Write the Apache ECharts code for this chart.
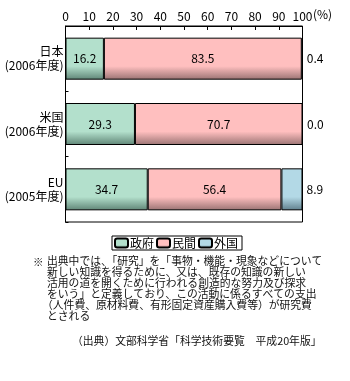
<!DOCTYPE html>
<html><head><meta charset="utf-8">
<script src="https://cdn.jsdelivr.net/npm/echarts@6/dist/echarts.min.js"></script>
<style>html,body{margin:0;padding:0;background:#fff}#c{width:350px;height:381px}</style>
</head><body><div id="c"></div>
<script>
const categories = ['日本\n(2006年度)', '米国\n(2006年度)', 'EU\n(2005年度)'];
const seriesNames = ['政府', '民間', '外国'];
const govValues = [16.2, 29.3, 34.7];
const privValues = [83.5, 70.7, 56.4];
const foreignValues = [0.4, 0.0, 8.9];
const xTicks = [0, 10, 20, 30, 40, 50, 60, 70, 80, 90, 100];
const unitText = '(%)';
const noteLines = [
  '出典中では、「研究」を「事物・機能・現象などについて',
  '新しい知識を得るために、又は、既存の知識の新しい',
  '活用の道を開くために行われる創造的な努力及び探求',
  'をいう」と定義しており、この活動に係るすべての支出',
  '（人件費、原材料費、有形固定資産購入費等）が研究費',
  'とされる'
];
const sourceText = '（出典）文部科学省「科学技術要覧　平成20年版」';

const FONT = '"Noto Sans CJK JP", "Noto Sans", sans-serif';
function grad(c, d) {
  return new echarts.graphic.LinearGradient(0, 0, 0, 1, [
    {offset: 0, color: c}, {offset: 0.68, color: c}, {offset: 1, color: d}
  ]);
}
const fills = [grad('#b3e0cc', '#5f8576'), grad('#ffbfbf', '#9a7373'), grad('#b3d9e6', '#5f7f8c')];
const data = [govValues, privValues, foreignValues];

const chart = echarts.init(document.getElementById('c'), null, {renderer: 'canvas'});
const graphics = [];
graphics.push({type: 'text', left: 313, top: 8, style: {text: unitText, font: '12px ' + FONT, fill: '#000'}});
graphics.push({type: 'text', left: 33, top: 257, style: {text: '※', font: '10.5px ' + FONT, fill: '#000'}});
noteLines.forEach((t, i) => {
  graphics.push({type: 'text', left: (t.startsWith('（') ? 42 : 47), top: 256 + i * 11,
    style: {text: t, font: '10.8px ' + FONT, fill: '#111'}});
});
graphics.push({type: 'text', left: 72, top: 336, style: {text: sourceText, font: '10.8px ' + FONT, fill: '#111'}});

chart.setOption({
  animation: false,
  textStyle: {fontFamily: FONT},
  grid: {left: 65.5, right: 47.5, top: 26, height: 196, show: true, borderColor: '#000', borderWidth: 1, backgroundColor: 'transparent'},
  legend: {
    data: seriesNames, left: 112, top: 236, orient: 'horizontal',
    borderColor: '#000', borderWidth: 1, padding: [1, 4, 1, 2],
    itemWidth: 13, itemHeight: 9, itemGap: 2,
    textStyle: {fontSize: 12, color: '#000', fontFamily: FONT, padding: [0, 0, 0, -3]}
  },
  xAxis: {
    type: 'value', position: 'top', min: 0, max: 100, interval: 10,
    axisLine: {show: true, lineStyle: {color: '#000'}},
    axisTick: {show: true, inside: true, length: 4, lineStyle: {color: '#000'}},
    axisLabel: {color: '#000', fontSize: 12, margin: 4, fontFamily: FONT,
      formatter: v => xTicks.includes(v) ? String(v) : ''},
    splitLine: {show: false}
  },
  yAxis: {
    type: 'category', inverse: true, data: categories,
    axisLine: {show: true, lineStyle: {color: '#000'}},
    axisTick: {show: true, inside: true, length: 3, lineStyle: {color: '#000'}},
    axisLabel: {color: '#000', fontSize: 12, margin: 2, lineHeight: 14, align: 'right', fontFamily: FONT}
  },
  series: seriesNames.map((n, i) => ({
    name: n, type: 'bar', stack: 'total', barWidth: 42,
    data: data[i],
    itemStyle: {color: fills[i], borderColor: '#000', borderWidth: 1},
    label: i < 2 ? {show: true, position: 'inside', color: '#000', fontSize: 12, fontFamily: FONT,
                    formatter: p => p.value.toFixed(1)}
                 : {show: true, position: 'right', distance: 4, color: '#000', fontSize: 12, fontFamily: FONT,
                    formatter: p => p.value.toFixed(1)}
  })),
  graphic: graphics
});
</script></body></html>
